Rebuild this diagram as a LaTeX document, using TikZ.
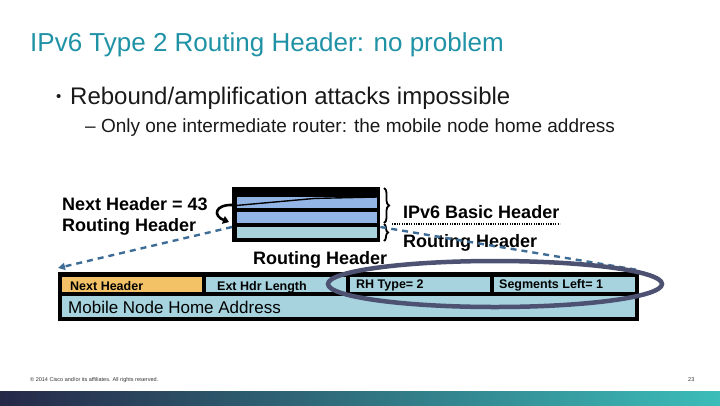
\documentclass[tikz,border=0pt]{standalone}
\usepackage{fontspec}
\setmainfont{Liberation Sans}
\usetikzlibrary{arrows.meta,decorations.pathreplacing}
\definecolor{titleteal}{RGB}{32,146,166}
\definecolor{stripeblue}{RGB}{146,181,230}
\definecolor{stripelight}{RGB}{168,210,220}
\definecolor{cellblue}{RGB}{167,211,222}
\definecolor{cellorange}{RGB}{243,194,102}
\definecolor{dashblue}{RGB}{61,109,150}
\definecolor{ovalgray}{RGB}{77,82,115}
\definecolor{barnavy}{RGB}{38,40,72}
\definecolor{barteal}{RGB}{59,189,185}
\tikzset{
  fs/.style={font=\fontsize{#1}{#1}\selectfont},
  bfs/.style={font=\fontsize{#1}{#1}\selectfont\bfseries},
  lbl/.style={anchor=base west, inner sep=0pt},
  blk/.style={fill=black, inner sep=0pt, anchor=north west},
  cellbox/.style={fill=cellblue, inner sep=0pt, anchor=north west, minimum height=15},
  stripe/.style={inner sep=0pt, anchor=north west, minimum width=140, minimum height=11},
  dashline/.style={draw=dashblue, line width=2.4pt, dash pattern=on 6pt off 5pt},
}
\begin{document}
\begin{tikzpicture}[x=1pt,y=-1pt]
\useasboundingbox (0,0) rectangle (720,405);
% footer bar
\shade[left color=barnavy, right color=barteal] (0,391) rectangle (720,405);
% title and bullets
\node[lbl, fs=26, text=titleteal] (title) at (30,51) {IPv6 Type 2 Routing Header: no problem};
\node[lbl, fs=15, text=black!90] (bul) at (56,101) {•};
\node[lbl, fs=24, text=black!90] (b1) at (70,104) {Rebound/amplification attacks impossible};
\node[lbl, fs=19, text=black!90] (b2) at (85,132) {– Only one intermediate router: the mobile node home address};
% packet stack
\node[blk, minimum width=148, minimum height=55] (stack) at (232,187) {};
\node[stripe, fill=stripeblue] (s1) at (237,197) {};
\node[stripe, fill=stripeblue] (s2) at (237,212) {};
\node[stripe, fill=stripelight] (s3) at (237,227) {};
\draw[line width=1.4pt] (s1.south west) ++(0,-3) coordinate (d1) -- ++(78,-7) coordinate (d2) -- (s1.north east);
% curl arrow
\coordinate (curlA) at (234,205);
\coordinate (curlB) at (229,222);
\draw[line width=2.6pt, -{Triangle[length=6pt,width=8pt]}] (curlA) .. controls (214,204) and (213,216) .. (curlB);
% braces
\draw[line width=1.8pt, decorate, decoration={brace, amplitude=5pt}] (384,188) -- (384,223);
\draw[line width=1.8pt, decorate, decoration={brace, amplitude=4pt}] (384,224) -- (384,241);
\coordinate (dotA) at (392,224);
\coordinate (dotB) at (560,224);
\draw[line width=1.4pt, dash pattern=on 1.2pt off 1.2pt] (dotA) -- (dotB);
% labels
\node[lbl, bfs=18] (nh) at (62,210) {Next Header = 43};
\node[lbl, bfs=18] (rhl) at (62,231) {Routing Header};
\node[lbl, bfs=18] (rhm) at (253,264) {Routing Header};
\node[lbl, bfs=18] (ipb) at (403,218) {IPv6 Basic Header};
\node[lbl, bfs=18] (rhr) at (403,247) {Routing Header};
% table
\node[blk, minimum width=581, minimum height=49] (tab) at (58,272) {};
\node[cellbox, fill=cellorange, minimum width=140] (c1) at (62,277) {};
\node[cellbox, minimum width=140] (c2) at (206,277) {};
\node[cellbox, minimum width=140] (c3) at (350,277) {};
\node[cellbox, minimum width=141] (c4) at (494,277) {};
\node[cellbox, minimum width=573, minimum height=21] (c5) at (62,296) {};
\node[lbl, bfs=12.5] (t1) at (70,290) {Next Header};
\node[lbl, bfs=12.5] (t2) at (217,290) {Ext Hdr Length};
\node[lbl, bfs=12.5] (t3) at (356,288) {RH Type= 2};
\node[lbl, bfs=12.5] (t4) at (499,288) {Segments Left= 1};
\node[lbl, fs=17] (t5) at (68,313) {Mobile Node Home Address};
% dashed connectors
\coordinate (leftEnd) at (58,268);
\coordinate (rightEnd) at (638,270);
\draw[dashline, -{Triangle[length=7pt,width=7pt]}] (stack.west |- s3.north) -- (leftEnd);
\draw[dashline] (stack.east |- s3.north) -- (rightEnd);
% oval
\draw[ovalgray, line width=4.5pt] (495,284) ellipse [x radius=167, y radius=23];
% footer
\node[lbl, fs=5.5, text=black!80] (foot) at (30,381) {© 2014 Cisco and/or its affiliates. All rights reserved.};
\node[lbl, fs=5.5, text=black!80] (page) at (688,381) {23};
\end{tikzpicture}
\end{document}
